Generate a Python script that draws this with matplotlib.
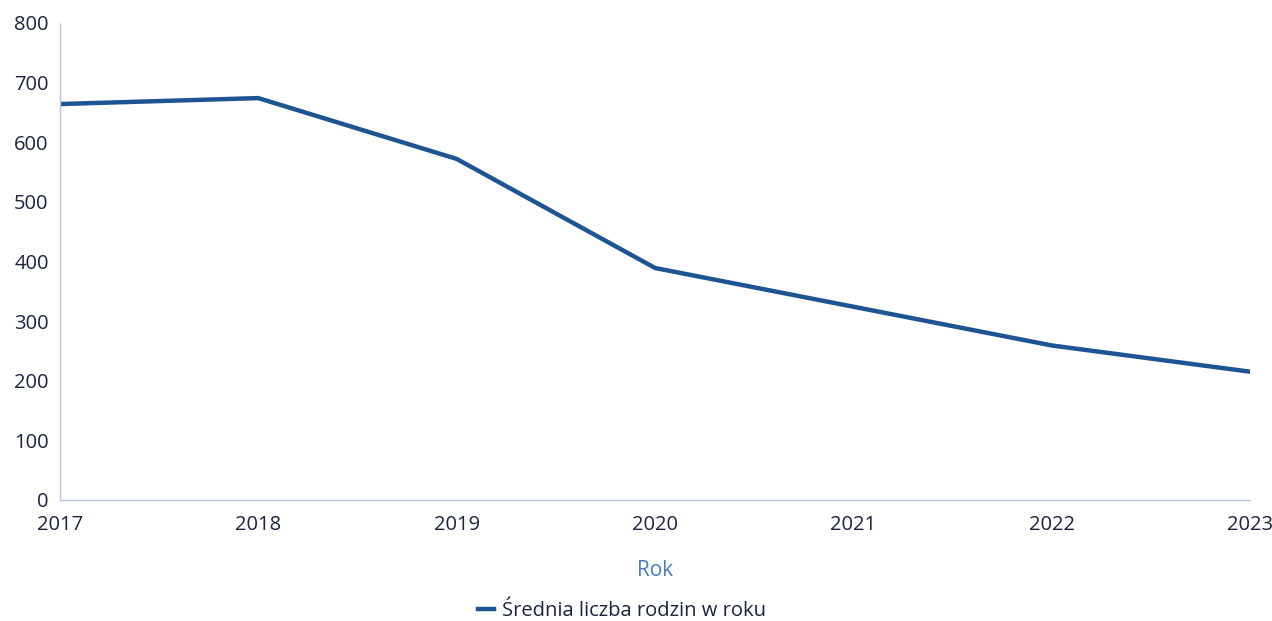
import matplotlib.pyplot as plt

plt.rcParams["font.family"] = ["Open Sans", "DejaVu Sans"]

years = [2017, 2018, 2019, 2020, 2021, 2022, 2023]
families = [664, 674, 572, 389, 324, 259, 215]
series_label = "Średnia liczba rodzin w roku"

fig = plt.figure(figsize=(12.72, 6.21), dpi=100)
ax = fig.add_axes([0.047, 0.195, 0.936, 0.768])

ax.plot(years, families, color="#1d5592", linewidth=3.2, label=series_label,
        solid_joinstyle="miter")

ax.set_xlim(2017, 2023)
ax.set_ylim(0, 800)
ax.set_xticks(years)
ax.set_yticks(range(0, 801, 100))

for s in ["top", "right"]:
    ax.spines[s].set_visible(False)
for s in ["left", "bottom"]:
    ax.spines[s].set_color("#b8c4e0")
    ax.spines[s].set_linewidth(1)
ax.spines["left"].set_linestyle((0, (1, 1)))

ax.tick_params(length=0, labelsize=14.5, colors="#1c2340")
ax.tick_params(axis="x", pad=11)
ax.tick_params(axis="y", pad=8)

ax.set_xlabel("Rok", fontsize=15, color="#4a7cc0", labelpad=18)

fig.legend(loc="center", bbox_to_anchor=(0.489, 0.016), frameon=False,
           fontsize=14.5, handlelength=0.8, handletextpad=0.4,
           labelcolor="#1c2340")

fig.savefig("out.png", dpi=100)
